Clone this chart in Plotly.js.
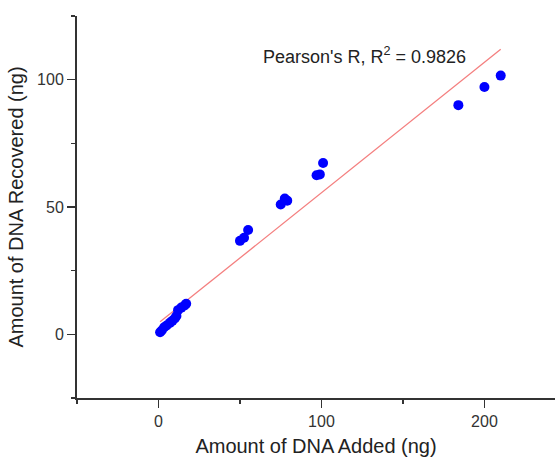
<!DOCTYPE html>
<html>
<head>
<meta charset="utf-8">
<script src="https://cdn.plot.ly/plotly-3.0.1.min.js"></script>
<style>html,body{margin:0;padding:0;background:#fff;}#chart{width:555px;height:457px;}</style>
</head>
<body>
<div id="chart"></div>
<script>
// DNA added (ng) vs DNA recovered (ng)
const dnaAdded = [1, 2, 3.5, 5, 7, 8.5, 10, 11, 12, 14, 16, 17,
                  50, 52.5, 55, 75, 77.5, 79, 97, 99, 101, 184, 200, 210];
const dnaRecovered = [0.8, 1.5, 2.8, 3.5, 4.5, 5.3, 6.2, 7.2, 9.5, 10.5, 11.3, 12,
                      36.7, 37.9, 41, 51, 53.3, 52.5, 62.5, 62.8, 67.3, 90, 97.1, 101.6];
// Linear fit line endpoints
const fitX = [1, 210];
const fitY = [4.9, 111.9];
const annotationText = "Pearson's R, R<sup>2</sup> = 0.9826";

const font = 'Liberation Sans, Arial, sans-serif';

const traces = [
  {
    x: fitX, y: fitY, type: 'scatter', mode: 'lines',
    line: {color: '#f47f7f', width: 1.3},
    hoverinfo: 'skip', showlegend: false
  },
  {
    x: dnaAdded, y: dnaRecovered, type: 'scatter', mode: 'markers',
    marker: {color: '#0000ff', size: 10, line: {width: 0}},
    showlegend: false
  }
];

const axisCommon = {
  showline: true, linecolor: '#333', linewidth: 2,
  ticks: 'outside', ticklen: 8, tickwidth: 1.5, tickcolor: '#333',
  showgrid: false, zeroline: false,
  tickfont: {family: font, size: 16, color: '#333'}
};

const layout = {
  width: 555, height: 457,
  margin: {l: 77, r: 0, t: 16, b: 59},
  paper_bgcolor: '#ffffff', plot_bgcolor: '#ffffff',
  font: {family: font},
  xaxis: Object.assign({}, axisCommon, {
    range: [-50, 243.3], tickvals: [0, 100, 200],
    minor: {tickvals: [-50, 50, 150], ticks: 'outside', ticklen: 4, tickwidth: 1.5, tickcolor: '#333'},
    title: {text: 'Amount of DNA Added (ng)', font: {family: font, size: 20, color: '#222'}, standoff: 10}
  }),
  yaxis: Object.assign({}, axisCommon, {
    range: [-25, 125], tickvals: [0, 50, 100],
    minor: {tickvals: [-25, 25, 75, 125], ticks: 'outside', ticklen: 4, tickwidth: 1.5, tickcolor: '#333'},
    title: {text: 'Amount of DNA Recovered (ng)', font: {family: font, size: 20, color: '#222'}, standoff: 8}
  }),
  annotations: [{
    x: 63, y: 109.6, xref: 'x', yref: 'y', xanchor: 'left', yanchor: 'middle',
    text: annotationText, showarrow: false,
    font: {family: font, size: 18, color: '#222'}
  }]
};

Plotly.newPlot('chart', traces, layout, {displayModeBar: false, staticPlot: true});
</script>
</body>
</html>
